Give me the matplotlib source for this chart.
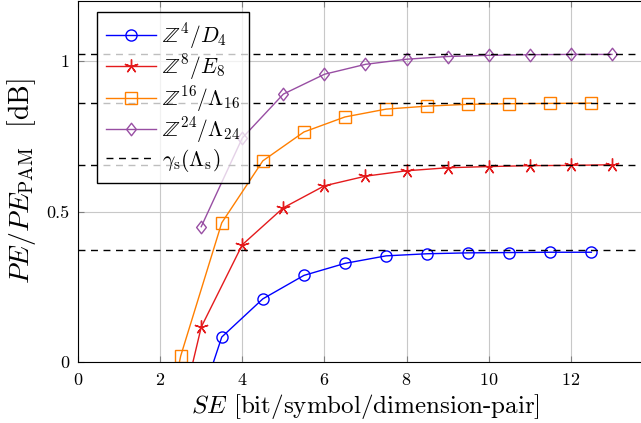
import numpy as np
import matplotlib
matplotlib.use("Agg")
import matplotlib.pyplot as plt
from matplotlib.path import Path

plt.rcParams["font.family"] = "serif"
plt.rcParams["font.serif"] = ["cmr10", "DejaVu Serif"]
plt.rcParams["mathtext.fontset"] = "cm"
plt.rcParams["axes.formatter.use_mathtext"] = True

# data
se_d4 = [2.5, 3.5, 4.5, 5.5, 6.5, 7.5, 8.5, 9.5, 10.5, 11.5, 12.5]
pe_d4 = [-0.33, 0.083, 0.21, 0.288, 0.328, 0.353, 0.360, 0.363, 0.364, 0.365, 0.365]

se_e8 = [2, 3, 4, 5, 6, 7, 8, 9, 10, 11, 12, 13]
pe_e8 = [-0.46, 0.116, 0.39, 0.513, 0.586, 0.618, 0.636, 0.646, 0.650, 0.653, 0.654, 0.656]

se_l16 = [1.5, 2.5, 3.5, 4.5, 5.5, 6.5, 7.5, 8.5, 9.5, 10.5, 11.5, 12.5]
pe_l16 = [-0.65, 0.02, 0.463, 0.669, 0.765, 0.815, 0.841, 0.851, 0.857, 0.859, 0.860, 0.861]

se_l24 = [3, 4, 5, 6, 7, 8, 9, 10, 11, 12, 13]
pe_l24 = [0.45, 0.745, 0.891, 0.957, 0.990, 1.007, 1.016, 1.020, 1.022, 1.023, 1.023]

gamma_s = [0.371, 0.656, 0.861, 1.023]

# pgfplots-like diamond (a bit narrower than tall)
diamond = Path([(0, 1), (0.78, 0), (0, -1), (-0.78, 0), (0, 1)],
               [Path.MOVETO, Path.LINETO, Path.LINETO, Path.LINETO, Path.CLOSEPOLY])

fig = plt.figure(figsize=(6.41, 4.23), dpi=100)
ax = fig.add_axes([0.1217, 0.1442, 0.897, 0.853])

ax.plot(se_d4, pe_d4, color="#0000ff", lw=1.0, marker="o", ms=8, mfc="none", mew=1.0,
        label=r"$\mathbb{Z}^4/D_4$")
ax.plot(se_e8, pe_e8, color="#e41a1c", lw=1.0, marker=(5, 2, 0), ms=10, mew=1.0,
        label=r"$\mathbb{Z}^8/E_8$")
ax.plot(se_l16, pe_l16, color="#ff7f00", lw=1.0, marker="s", ms=8, mfc="none", mew=1.0,
        label=r"$\mathbb{Z}^{16}/\Lambda_{16}$")
ax.plot(se_l24, pe_l24, color="#984ea3", lw=1.0, marker=diamond, ms=9, mfc="none", mew=1.0,
        label=r"$\mathbb{Z}^{24}/\Lambda_{24}$")
for i, g in enumerate(gamma_s):
    ax.axhline(g, color="black", lw=1.0, dashes=(5, 4),
               label=r"$\gamma_{\mathrm{s}}(\Lambda_{\mathrm{s}})$" if i == 0 else None)

ax.set_xlim(0, 14)
ax.set_ylim(0, 1.2)
ax.set_xticks([0, 2, 4, 6, 8, 10, 12])
ax.set_yticks([0, 0.5, 1])
ax.set_yticklabels(["0", "0.5", "1"])
ax.grid(True, color="#c8c8c8", lw=0.8)
ax.set_axisbelow(True)
ax.tick_params(direction="in", length=4, color="#808080", labelsize=13,
               top=True, right=True)
ax.tick_params(axis="x", pad=7)
ax.tick_params(axis="y", pad=6)
ax.spines["right"].set_visible(False)

ax.set_xlabel(r"$SE$ [bit/symbol/dimension-pair]", fontsize=18, labelpad=3)
ax.set_ylabel(r"$PE/PE_{\mathrm{PAM}}$  [dB]", fontsize=20, labelpad=6)

leg = ax.legend(loc="upper left", bbox_to_anchor=(0.022, 0.988), fontsize=15.5,
                fancybox=False, edgecolor="black", handlelength=2.3,
                borderpad=0.42, labelspacing=0.08, handletextpad=0.3,
                borderaxespad=0.3)
leg.get_frame().set_alpha(None)
leg.get_frame().set_facecolor((1, 1, 1, 0.75))
leg.get_frame().set_linewidth(1.0)

fig.savefig("out.png", dpi=100)
